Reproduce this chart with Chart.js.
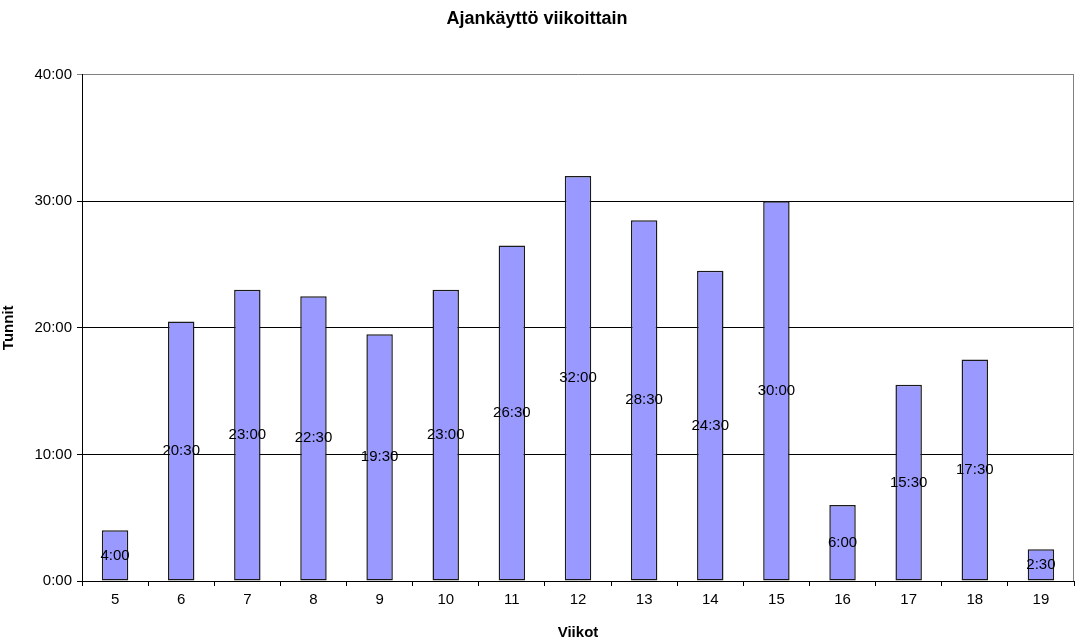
<!DOCTYPE html>
<html>
<head>
<meta charset="utf-8">
<script src="https://cdn.jsdelivr.net/npm/chart.js@4"></script>
<style>
  html, body { margin: 0; padding: 0; background: #fff; }
  #wrap { width: 1075px; height: 642px; }
</style>
</head>
<body>
<div id="wrap"><canvas id="c" width="1075" height="642"></canvas></div>
<script>
// Week numbers and hours spent per week (decimal hours)
const weeks = ['5', '6', '7', '8', '9', '10', '11', '12', '13', '14', '15', '16', '17', '18', '19'];
const hours = [4, 20.5, 23, 22.5, 19.5, 23, 26.5, 32, 28.5, 24.5, 30, 6, 15.5, 17.5, 2.5];
const yTicks = [0, 10, 20, 30, 40];

// decimal hours -> "H:MM"
function hm(v) {
  const h = Math.floor(v + 1e-9);
  const m = Math.round((v - h) * 60);
  return h + ':' + String(m).padStart(2, '0');
}

const FONT = 'Liberation Sans, Arial, sans-serif';

// value labels centred inside each bar
const barLabels = {
  id: 'barLabels',
  afterDatasetsDraw(chart) {
    const ctx = chart.ctx;
    const meta = chart.getDatasetMeta(0);
    ctx.save();
    ctx.font = '15px ' + FONT;
    ctx.fillStyle = '#000';
    ctx.textAlign = 'center';
    ctx.textBaseline = 'middle';
    meta.data.forEach((bar, i) => {
      const y = (bar.y + bar.base) / 2;
      ctx.fillText(hm(chart.data.datasets[0].data[i]), bar.x, y);
    });
    ctx.restore();
  }
};

// plot-area frame on the right side
const plotFrame = {
  id: 'plotFrame',
  beforeDatasetsDraw(chart) {
    const a = chart.chartArea, ctx = chart.ctx;
    ctx.save();
    ctx.strokeStyle = '#808080';
    ctx.lineWidth = 1;
    ctx.beginPath();
    ctx.moveTo(Math.round(a.right) - 0.5, a.top);
    ctx.lineTo(Math.round(a.right) - 0.5, a.bottom);
    ctx.stroke();
    ctx.restore();
  }
};

new Chart(document.getElementById('c'), {
  type: 'bar',
  data: {
    labels: weeks,
    datasets: [{
      data: hours,
      backgroundColor: '#9999FF',
      borderColor: '#1a1a1a',
      borderWidth: 1.5,
      borderSkipped: false,
      categoryPercentage: 1,
      barPercentage: 0.4
    }]
  },
  options: {
    responsive: false,
    animation: false,
    devicePixelRatio: 1,
    layout: { padding: { left: 0, right: 1, top: 0, bottom: 0 } },
    plugins: {
      legend: { display: false },
      tooltip: { enabled: false },
      title: {
        display: true,
        text: 'Ajankäyttö viikoittain',
        color: '#000',
        font: { family: FONT, size: 18, weight: 'bold' },
        padding: { top: 8, bottom: 45 }
      }
    },
    scales: {
      x: {
        offset: true,
        grid: {
          offset: true,
          drawOnChartArea: false,
          drawTicks: true,
          tickLength: 5,
          color: '#000'
        },
        border: { display: true, color: '#000', width: 1 },
        ticks: {
          color: '#000',
          font: { family: FONT, size: 15 },
          padding: 5,
          maxRotation: 0
        },
        title: {
          display: true,
          text: 'Viikot',
          color: '#000',
          font: { family: FONT, size: 15, weight: 'bold' },
          padding: { top: 9, bottom: 0 }
        },
        afterFit(s) { s.height = 61; }
      },
      y: {
        min: 0,
        max: 40,
        afterBuildTicks(s) { s.ticks = yTicks.map(v => ({ value: v })); },
        grid: {
          color: ctx => (ctx.tick && ctx.tick.value === 40) ? '#808080' : '#000',
          tickLength: 5,
          drawTicks: true
        },
        border: { display: true, color: '#000', width: 1 },
        ticks: {
          color: '#000',
          font: { family: FONT, size: 15 },
          padding: 5,
          callback: v => hm(v)
        },
        title: {
          display: true,
          text: 'Tunnit',
          color: '#000',
          font: { family: FONT, size: 15, weight: 'bold' },
          padding: { top: 0, bottom: 0 }
        },
        afterFit(s) { s.width = 82; }
      }
    }
  },
  plugins: [barLabels, plotFrame]
});
</script>
</body>
</html>
